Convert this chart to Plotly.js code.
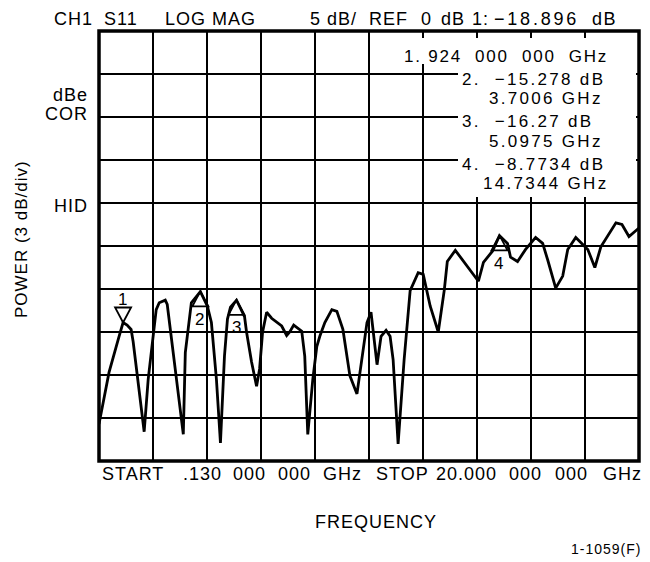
<!DOCTYPE html>
<html>
<head>
<meta charset="utf-8">
<script src="https://cdn.plot.ly/plotly-3.0.1.min.js"></script>
<style>
html,body{margin:0;padding:0;background:#fff;}
#chart{width:650px;height:562px;}
svg text{letter-spacing:1px;}
</style>
</head>
<body>
<div id="chart"></div>
<script>
// Trace: frequency (GHz) and level (dB)
const freqGHz = [0.13, 0.499, 0.869, 1.016, 1.164, 1.312, 1.386, 1.533, 1.792, 1.940,
  2.087, 2.235, 2.346, 2.568, 2.641, 2.900, 3.232, 3.306, 3.417, 3.528,
  3.860, 4.119, 4.266, 4.451, 4.599, 4.747, 4.857, 4.968, 5.190, 5.485,
  5.559, 5.744, 5.928, 6.039, 6.150, 6.298, 6.482, 6.852, 7.036, 7.147,
  7.295, 7.443, 7.590, 7.701, 7.812, 7.997, 8.144, 8.255, 8.440, 8.698,
  8.883, 9.105, 9.363, 9.622, 9.807, 9.991, 10.139, 10.361, 10.508, 10.693,
  10.841, 10.952, 11.136, 11.358, 11.579, 11.875, 12.060, 12.318, 12.614, 12.836,
  12.946, 13.241, 14.091, 14.276, 14.608, 14.866, 15.162, 15.273, 15.531, 15.827,
  16.196, 16.455, 16.639, 16.935, 17.193, 17.378, 17.673, 18.116, 18.375, 18.597,
  19.151, 19.373, 19.631, 20.0];
const levelDb = [-30.7, -24.7, -20.5, -18.9, -19.2, -19.7, -21.1, -24.7, -31.6, -25.5,
  -21.7, -17.4, -16.6, -16.3, -16.8, -23.5, -31.9, -22.4, -19.7, -16.6,
  -15.3, -17.0, -18.9, -25.5, -32.9, -22.8, -18.5, -17.1, -16.3, -18.2,
  -20.0, -23.5, -26.3, -24.3, -20.0, -17.7, -18.4, -19.3, -20.4, -20.0,
  -19.2, -19.5, -19.9, -22.8, -31.9, -25.5, -21.7, -20.5, -18.9, -17.4,
  -17.6, -19.7, -25.1, -27.2, -23.2, -18.9, -17.7, -23.8, -20.5, -19.8,
  -20.5, -23.2, -33.0, -23.2, -15.2, -13.1, -13.3, -17.0, -20.0, -15.1,
  -11.8, -10.5, -14.1, -11.9, -10.6, -8.8, -9.7, -11.3, -11.8, -10.4,
  -9.0, -9.7, -11.6, -14.9, -13.5, -10.4, -9.0, -10.4, -12.5, -10.1,
  -7.3, -7.5, -8.9, -7.9];

// Markers
const markerLabels = ['1', '2', '3', '4'];
const markerFreq = [1.016, 3.860, 5.190, 14.866];
const markerDb = [-18.896, -15.278, -16.27, -8.7734];
const markerPointsDown = [true, false, false, false];

// Axis
const startGHz = 0.13, stopGHz = 20.0;
const refTop = 15, refBottom = -35, dbPerDiv = 5;

// Text
const headerWords = ['CH1', 'S11', 'LOG MAG', '5 dB/', 'REF', '0', 'dB', '1:', '\u221218.896', 'dB'];
const boxLines = ['1. 924\u00a0\u00a0000\u00a0\u00a0000\u00a0\u00a0GHz', '2.\u00a0\u00a0\u221215.278 dB', '3.7006 GHz',
  '3.\u00a0\u00a0\u221216.27 dB', '5.0975 GHz', '4.\u00a0\u00a0\u22128.7734 dB', '14.7344 GHz'];
const bottomWords = ['START', '.130', '000', '000', 'GHz', 'STOP', '20.000', '000', '000', 'GHz'];
const sideWords = ['dBe', 'COR', 'HID'];

// layout helpers (pixel -> paper)
const L = 99, R = 639, T = 31, B = 461;
const P = px => (px - L) / (R - L);
const Q = py => (B - py) / (B - T);
const FONT = 'Liberation Sans, Arial, sans-serif';
const wide = (s, sp) => '<span style="letter-spacing:' + sp + 'px">' + s + '</span>';

const ann = [];
const headerX = [52, 102, 163, 308, 367, 419, 439, 470, 492, 590];
const headerSp = [1, 1, 1, 1, 1, 1, 1, 1, 2.8, 1.5];
headerWords.forEach((w, i) => ann.push({text: wide(w, headerSp[i]), xref: 'paper', yref: 'paper', x: P(headerX[i]), y: Q(19),
  xanchor: 'left', yanchor: 'middle', showarrow: false, font: {family: FONT, size: 18, color: '#000'}}));

const boxX = [610, 460, 605, 460, 605, 460, 610];
const boxAnchor = ['right', 'left', 'right', 'left', 'right', 'left', 'right'];
const boxSp = [1.8, 2.3, 2.3, 2.3, 2.3, 2.3, 2.3];
const boxY = [56, 79, 99, 121, 141, 164, 183];
boxLines.forEach((w, i) => ann.push({text: wide(w, boxSp[i]), xref: 'paper', yref: 'paper', x: P(boxX[i]), y: Q(boxY[i]),
  xanchor: boxAnchor[i], yanchor: 'middle', showarrow: false, font: {family: FONT, size: 17, color: '#000'}}));

const bottomX = [100, 181, 231, 276, 321, 374, 434, 507, 553, 601];
bottomWords.forEach((w, i) => ann.push({text: w, xref: 'paper', yref: 'paper', x: P(bottomX[i]), y: Q(474),
  xanchor: 'left', yanchor: 'middle', showarrow: false, font: {family: FONT, size: 18, color: '#000'}}));

const sideY = [95, 114, 206];
sideWords.forEach((w, i) => ann.push({text: w, xref: 'paper', yref: 'paper', x: P(90), y: Q(sideY[i]),
  xanchor: 'right', yanchor: 'middle', showarrow: false, font: {family: FONT, size: 18, color: '#000'}}));

ann.push({text: 'POWER (3 dB/div)', textangle: -90, xref: 'paper', yref: 'paper', x: P(21), y: Q(239),
  xanchor: 'center', yanchor: 'middle', showarrow: false, font: {family: FONT, size: 17, color: '#000'}});
ann.push({text: 'FREQUENCY', xref: 'paper', yref: 'paper', x: P(376), y: Q(522),
  xanchor: 'center', yanchor: 'middle', showarrow: false, font: {family: FONT, size: 18, color: '#000'}});
ann.push({text: '1-1059(F)', xref: 'paper', yref: 'paper', x: P(643), y: Q(549),
  xanchor: 'right', yanchor: 'middle', showarrow: false, font: {family: FONT, size: 14, color: '#000'}});

// marker numbers
markerLabels.forEach((m, i) => ann.push({text: m, xref: 'x', yref: 'y', x: markerFreq[i], y: markerDb[i],
  yshift: markerPointsDown[i] ? 23 : -28, xanchor: 'center', yanchor: 'middle', showarrow: false,
  font: {family: FONT, size: 17, color: '#000'}}));

const shapes = [
  {type: 'rect', xref: 'paper', yref: 'paper', x0: P(403), x1: P(636), y0: Q(64), y1: Q(38), fillcolor: '#fff', line: {width: 0}, layer: 'above'},
  {type: 'rect', xref: 'paper', yref: 'paper', x0: P(458), x1: P(636), y0: Q(197), y1: Q(64), fillcolor: '#fff', line: {width: 0}, layer: 'above'},
  {type: 'rect', xref: 'paper', yref: 'paper', x0: 0, x1: 1, y0: 0, y1: 1, line: {color: '#000', width: 3.5}, layer: 'above'}
];
markerFreq.forEach((f, i) => shapes.push({type: 'path', xref: 'x', yref: 'y', xsizemode: 'pixel', ysizemode: 'pixel',
  xanchor: f, yanchor: markerDb[i],
  path: markerPointsDown[i] ? 'M-8,15 L8,15 L0,0 Z' : 'M-8,-15 L8,-15 L0,0 Z',
  line: {color: '#000', width: 1.8}, fillcolor: 'rgba(0,0,0,0)', layer: 'above'}));

const trace = {x: freqGHz, y: levelDb, type: 'scatter', mode: 'lines',
  line: {color: '#000', width: 2.8}, hoverinfo: 'skip'};

const layout = {
  width: 650, height: 562,
  margin: {l: L, r: 650 - R, t: T, b: 562 - B},
  paper_bgcolor: '#fff', plot_bgcolor: '#fff',
  showlegend: false,
  xaxis: {range: [startGHz, stopGHz], tickmode: 'linear', tick0: startGHz, dtick: (stopGHz - startGHz) / 10,
    showgrid: true, gridcolor: '#000', gridwidth: 2, zeroline: false, showline: false,
    showticklabels: false, ticks: '', fixedrange: true},
  yaxis: {range: [refBottom, refTop], tickmode: 'linear', tick0: refBottom, dtick: dbPerDiv,
    showgrid: true, gridcolor: '#000', gridwidth: 2, zeroline: false, showline: false,
    showticklabels: false, ticks: '', fixedrange: true},
  annotations: ann,
  shapes: shapes
};

Plotly.newPlot('chart', [trace], layout, {staticPlot: true, displayModeBar: false});
</script>
</body>
</html>
